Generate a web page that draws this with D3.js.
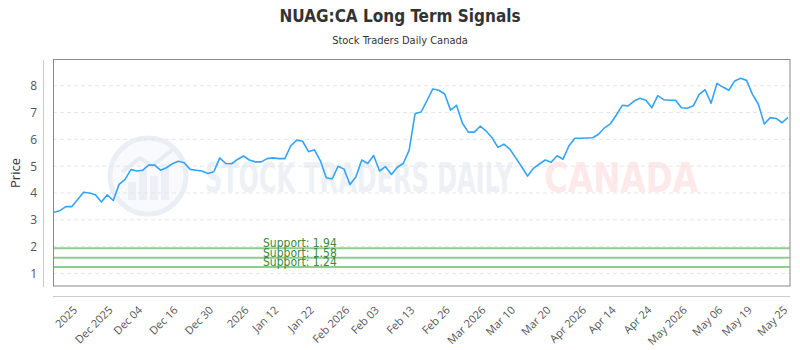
<!DOCTYPE html>
<html>
<head>
<meta charset="utf-8">
<script src="https://cdn.jsdelivr.net/npm/d3@7"></script>
<style>
body{margin:0;background:#fff;}
svg{display:block;}
</style>
</head>
<body>
<svg id="chart"></svg>
<script>
// closing prices, one per trading day
var prices=[3.28,3.34,3.49,3.49,3.76,4.03,4.00,3.93,3.66,3.93,
            3.72,4.32,4.51,4.87,4.82,4.85,5.04,5.04,4.85,4.94,
            5.09,5.18,5.13,4.88,4.85,4.82,4.73,4.79,5.31,5.10,
            5.09,5.25,5.38,5.23,5.16,5.16,5.28,5.31,5.28,5.28,
            5.76,5.97,5.93,5.54,5.61,5.20,4.57,4.52,5.00,4.89,
            4.32,4.60,5.23,5.10,5.40,4.82,4.98,4.69,4.96,5.10,
            5.60,6.96,7.02,7.44,7.88,7.83,7.69,7.09,7.27,6.60,
            6.27,6.27,6.49,6.31,6.06,5.70,5.82,5.64,5.31,4.98,
            4.63,4.92,5.08,5.23,5.15,5.39,5.26,5.76,6.04,6.04,
            6.05,6.06,6.19,6.43,6.58,6.91,7.27,7.25,7.43,7.53,
            7.46,7.18,7.63,7.48,7.46,7.46,7.18,7.16,7.25,7.68,
            7.85,7.35,8.09,7.95,7.83,8.18,8.28,8.20,7.68,7.31,
            6.57,6.81,6.78,6.62,6.82];
var tickLabels=["2025","Dec 2025","Dec 04","Dec 16","Dec 30","2026","Jan 12","Jan 22","Feb 2026","Feb 03","Feb 13",
                "Feb 26","Mar 2026","Mar 10","Mar 20","Apr 2026","Apr 14","Apr 24","May 2026","May 06","May 19","May 25"];
var tickIdx=[4,10,15,21,27,33,38,44,50,55,61,67,73,78,84,90,95,101,107,113,118,124];
var yTicks=[1,2,3,4,5,6,7,8];
var supports=[1.94,1.58,1.24];

var width=800,height=350;
var margin={left:53,right:10,top:60,bottom:64};
var font="'Open Sans','Noto Sans',sans-serif";
var narrow="'Liberation Sans Narrow','DejaVu Sans Condensed',sans-serif";

var svg=d3.select("#chart")
  .attr("width",width)
  .attr("height",height)
  .style("font-family",font);

var xScale=d3.scaleLinear()
             .domain([0,prices.length-1])
             .range([margin.left+1,width-margin.right-2]);
var yScale=d3.scaleLinear()
             .domain([0.53,8.96])
             .range([height-margin.bottom,margin.top]);

// title
svg.append("text")
   .attr("x",width/2).attr("y",22)
   .attr("text-anchor","middle")
   .style("font-family",narrow)
   .style("font-weight","bold")
   .style("font-size","17px")
   .attr("fill","#333")
   .text("NUAG:CA Long Term Signals");
svg.append("text")
   .attr("x",width/2).attr("y",44)
   .attr("text-anchor","middle")
   .style("font-family",narrow)
   .style("font-size","11px")
   .attr("fill","#333")
   .text("Stock Traders Daily Canada");

// watermark
var wm=svg.append("g").attr("class","watermark");
wm.append("circle")
  .attr("cx",148).attr("cy",176).attr("r",38)
  .attr("fill","#f9fafd")
  .attr("stroke","#eaeef5")
  .attr("stroke-width",5);
[[128,18],[139,30],[150,24],[161,36]].forEach(function(b){
  wm.append("rect")
    .attr("x",b[0]).attr("y",200-b[1])
    .attr("width",8).attr("height",b[1])
    .attr("fill","#eceff5");
});
wm.append("path")
  .attr("d","M122,172 L140,158 L152,166 L172,150")
  .attr("fill","none").attr("stroke","#e8ecf3").attr("stroke-width",4);
wm.append("text")
  .attr("x",205).attr("y",192)
  .attr("textLength",308).attr("lengthAdjust","spacingAndGlyphs")
  .style("font-family",narrow).style("font-size","40px").style("font-weight","bold")
  .attr("fill","#edf1f6")
  .text("STOCK TRADERS DAILY");
wm.append("text")
  .attr("x",544).attr("y",192)
  .attr("textLength",154).attr("lengthAdjust","spacingAndGlyphs")
  .style("font-family",narrow).style("font-size","40px").style("font-weight","bold")
  .attr("fill","#fde9e9")
  .text("CANADA");

// grid
svg.append("g")
   .selectAll("line")
   .data(yTicks)
   .enter()
   .append("line")
   .attr("x1",margin.left).attr("x2",width-margin.right)
   .attr("y1",function(d){return yScale(d);})
   .attr("y2",function(d){return yScale(d);})
   .attr("stroke","#e6e6e6")
   .attr("stroke-dasharray","4,3");

// plot frame
svg.append("rect")
   .attr("x",margin.left+0.5).attr("y",margin.top-0.5)
   .attr("width",width-margin.left-margin.right-0.5)
   .attr("height",height-margin.bottom-margin.top+0.5)
   .attr("fill","none")
   .attr("stroke","#888");

// support lines
var sup=svg.append("g").selectAll("g")
   .data(supports)
   .enter()
   .append("g");
sup.append("line")
   .attr("x1",margin.left+1).attr("x2",width-margin.right)
   .attr("y1",function(d){return yScale(d);})
   .attr("y2",function(d){return yScale(d);})
   .attr("stroke","#8fcd8f")
   .attr("stroke-width",2);
sup.append("text")
   .attr("x",263)
   .attr("y",function(d){return yScale(d)-1;})
   .style("font-family",narrow)
   .style("font-size","12px")
   .attr("fill","#3a8a3a")
   .text(function(d){return "Support: "+d.toFixed(2);});

// price line
var line=d3.line()
  .x(function(d,i){return xScale(i);})
  .y(function(d){return yScale(d);});
svg.append("path")
   .datum(prices)
   .attr("d",line)
   .attr("fill","none")
   .attr("stroke","#35a4f4")
   .attr("stroke-width",1.6)
   .attr("stroke-linejoin","round");

// y axis
var yAxis=d3.axisLeft(yScale).tickValues(yTicks).tickSize(0).tickPadding(6);
var ya=svg.append("g")
   .attr("transform","translate(43,0)")
   .call(yAxis);
ya.select(".domain").remove();
ya.append("line")
  .attr("x1",0.5).attr("x2",0.5)
  .attr("y1",margin.top).attr("y2",height-margin.bottom+1)
  .attr("stroke","#ccc");
ya.selectAll("text")
  .style("font-family",font)
  .style("font-size","12px")
  .attr("fill","#555");

svg.append("text")
   .attr("transform","translate(20,"+((margin.top+height-margin.bottom)/2)+") rotate(-90)")
   .attr("text-anchor","middle")
   .style("font-size","13px")
   .attr("fill","#333")
   .text("Price");

// x axis
var xAxis=d3.axisBottom(xScale)
  .tickValues(tickIdx)
  .tickSize(0)
  .tickFormat(function(d,i){return tickLabels[i];});
var xa=svg.append("g")
   .attr("transform","translate(0,296)")
   .call(xAxis);
xa.select(".domain").remove();
xa.append("line")
  .attr("x1",margin.left).attr("x2",width-margin.right)
  .attr("y1",0.5).attr("y2",0.5)
  .attr("stroke","#ccc");
xa.selectAll(".tick text")
  .attr("x",0).attr("y",0).attr("dy","0.35em")
  .attr("text-anchor","end")
  .attr("transform","translate(-3,12) rotate(-45)")
  .style("font-family",font)
  .style("font-size","11px")
  .attr("fill","#555");
</script>
</body>
</html>
